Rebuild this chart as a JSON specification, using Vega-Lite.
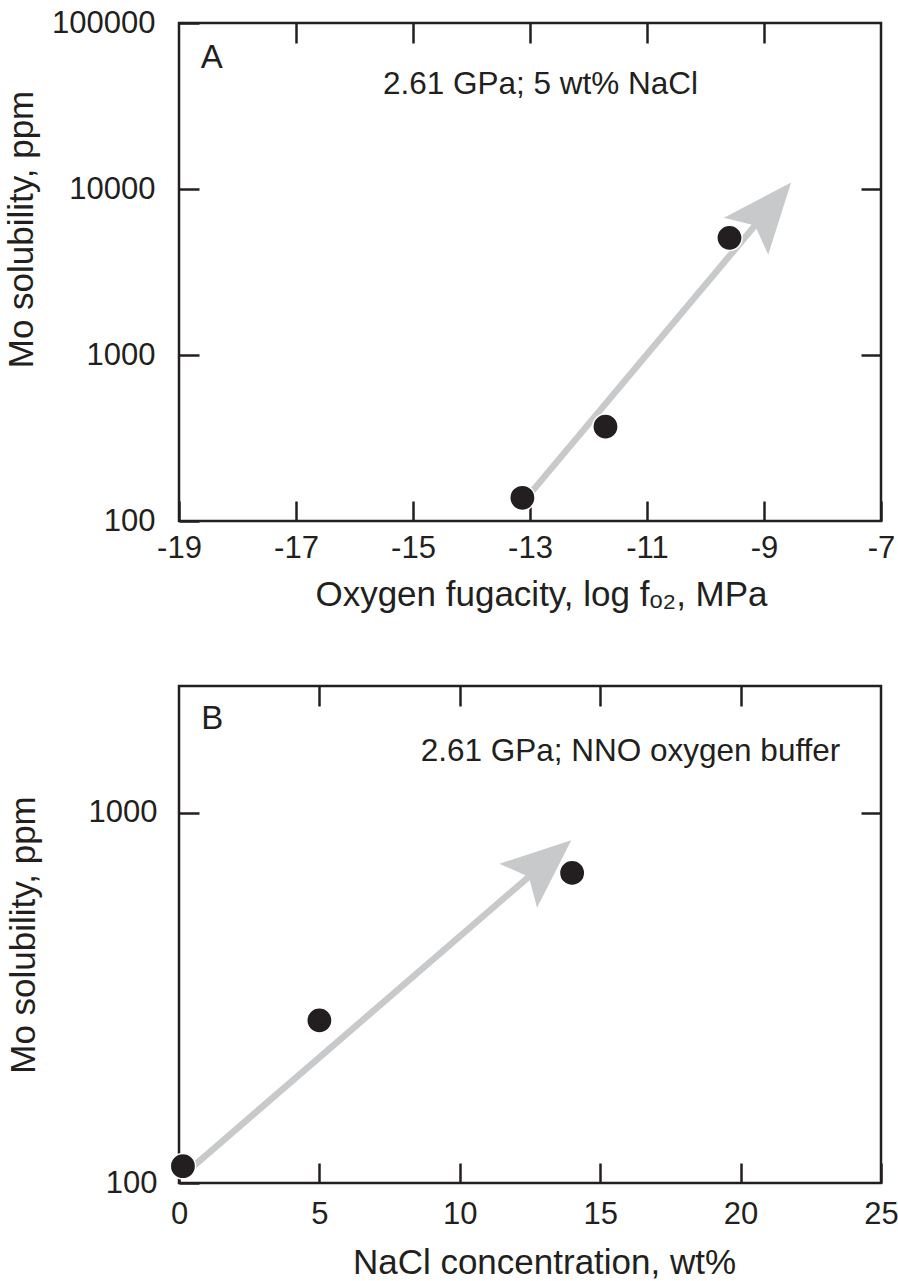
{
  "$schema": "https://vega.github.io/schema/vega-lite/v6.json",
  "background": "white",
  "padding": {"top": 5, "left": 3, "right": 10, "bottom": 2},
  "config": {
    "view": {"stroke": "#231f20", "strokeWidth": 2.5},
    "axis": {
      "labelFont": "Liberation Sans", "titleFont": "Liberation Sans",
      "labelFontSize": 31, "titleFontSize": 35, "titleFontWeight": "normal",
      "labelColor": "#231f20", "titleColor": "#231f20", "tickColor": "#231f20",
      "tickWidth": 2.5, "tickSize": -20, "domain": false, "grid": false,
      "labelFlush": false, "labelOverlap": false
    },
    "text": {"font": "Liberation Sans", "color": "#231f20"}
  },
  "columns": 1,
  "spacing": 69,
  "concat": [
    {
      "width": 702, "height": 498,
      "layer": [
        {
          "data": {"values": [{"x": -13.07, "y": 136.2}, {"x": -9.043, "y": 6708}]},
          "mark": {"type": "line", "color": "#c8c9ca", "strokeWidth": 6.5, "strokeCap": "butt"},
          "encoding": {
            "x": {"field": "x", "type": "quantitative", "scale": {"domain": [-19, -7], "nice": false, "zero": false},
              "axis": {"orient": "bottom", "values": [-19, -17, -15, -13, -11, -9, -7], "labelExpr": "datum.value + ''", "labelPadding": 32.5, "title": "Oxygen fugacity, log fₒ₂, MPa", "titlePadding": 14, "titleX": 362}},
            "y": {"field": "y", "type": "quantitative", "scale": {"type": "log", "domain": [100, 100000], "nice": false},
              "axis": {"orient": "left", "values": [100, 1000, 10000, 100000], "labelExpr": "datum.value + ''", "labelPadding": 44, "title": "Mo solubility, ppm", "titlePadding": 12, "titleY": 206}}
          }
        },
        {
          "data": {"values": [{"x": -8.537, "y": 10926}]},
          "mark": {"type": "point", "shape": "M0,0L0.413,1L0,0.8L-0.413,1Z", "size": 19600, "angle": 40, "filled": true, "color": "#c8c9ca", "opacity": 1, "strokeWidth": 0},
          "encoding": {
            "x": {"field": "x", "type": "quantitative", "scale": {"domain": [-19, -7], "nice": false, "zero": false}, "axis": null},
            "y": {"field": "y", "type": "quantitative", "scale": {"type": "log", "domain": [100, 100000], "nice": false}, "axis": null}
          }
        },
        {
          "data": {"values": [{"x": -13.13, "y": 138}, {"x": -11.71, "y": 370}, {"x": -9.59, "y": 5080}]},
          "mark": {"type": "circle", "size": 640, "color": "#231f20", "opacity": 1, "stroke": "white", "strokeWidth": 1.5},
          "encoding": {
            "x": {"field": "x", "type": "quantitative", "scale": {"domain": [-19, -7], "nice": false, "zero": false}, "axis": null},
            "y": {"field": "y", "type": "quantitative", "scale": {"type": "log", "domain": [100, 100000], "nice": false}, "axis": null}
          }
        },
        {
          "data": {"values": [{"x": -18.63, "y": 53830, "label": "A"}]},
          "mark": {"type": "text", "fontSize": 33, "align": "left", "baseline": "alphabetic"},
          "encoding": {
            "x": {"field": "x", "type": "quantitative", "scale": {"domain": [-19, -7], "nice": false, "zero": false}, "axis": null},
            "y": {"field": "y", "type": "quantitative", "scale": {"type": "log", "domain": [100, 100000], "nice": false}, "axis": null},
            "text": {"field": "label"}
          }
        },
        {
          "data": {"values": [{"x": -12.82, "y": 37530, "label": "2.61 GPa; 5 wt% NaCl"}]},
          "mark": {"type": "text", "fontSize": 31.5, "align": "center", "baseline": "alphabetic"},
          "encoding": {
            "x": {"field": "x", "type": "quantitative", "scale": {"domain": [-19, -7], "nice": false, "zero": false}, "axis": null},
            "y": {"field": "y", "type": "quantitative", "scale": {"type": "log", "domain": [100, 100000], "nice": false}, "axis": null},
            "text": {"field": "label"}
          }
        },
        {
          "data": {"values": [{"x": -13.13, "y": 138}, {"x": -11.71, "y": 370}, {"x": -9.59, "y": 5080}]},
          "mark": {"type": "point", "opacity": 0},
          "encoding": {
            "x": {"field": "x", "type": "quantitative", "scale": {"domain": [-19, -7], "nice": false, "zero": false},
              "axis": {"orient": "top", "values": [-17, -15, -13, -11, -9], "labels": false, "title": null}},
            "y": {"field": "y", "type": "quantitative", "scale": {"type": "log", "domain": [100, 100000], "nice": false},
              "axis": {"orient": "right", "values": [1000, 10000], "labels": false, "title": null}}
          }
        }
      ],
      "resolve": {"axis": {"x": "independent", "y": "independent"}}
    },
    {
      "width": 702, "height": 497,
      "layer": [
        {
          "data": {"values": [{"x": 0.285, "y": 107.3}, {"x": 12.73, "y": 699.8}]},
          "mark": {"type": "line", "color": "#c8c9ca", "strokeWidth": 6.5, "strokeCap": "butt"},
          "encoding": {
            "x": {"field": "x", "type": "quantitative", "scale": {"domain": [0, 25], "nice": false},
              "axis": {"orient": "bottom", "values": [0, 5, 10, 15, 20, 25], "labelExpr": "datum.value + ''", "labelPadding": 36.5, "title": "NaCl concentration, wt%", "titlePadding": 16, "titleX": 365}},
            "y": {"field": "y", "type": "quantitative", "scale": {"type": "log", "domain": [100, 2200], "nice": false},
              "axis": {"orient": "left", "values": [100, 1000], "labelExpr": "datum.value + ''", "labelPadding": 42, "title": "Mo solubility, ppm", "titlePadding": 47}}
          }
        },
        {
          "data": {"values": [{"x": 13.97, "y": 843.5}]},
          "mark": {"type": "point", "shape": "M0,0L0.413,1L0,0.8L-0.413,1Z", "size": 19600, "angle": 49.3, "filled": true, "color": "#c8c9ca", "opacity": 1, "strokeWidth": 0},
          "encoding": {
            "x": {"field": "x", "type": "quantitative", "scale": {"domain": [0, 25], "nice": false}, "axis": null},
            "y": {"field": "y", "type": "quantitative", "scale": {"type": "log", "domain": [100, 2200], "nice": false}, "axis": null}
          }
        },
        {
          "data": {"values": [{"x": 0.14, "y": 111}, {"x": 5.0, "y": 275}, {"x": 14.0, "y": 688}]},
          "mark": {"type": "circle", "size": 640, "color": "#231f20", "opacity": 1, "stroke": "white", "strokeWidth": 1.5},
          "encoding": {
            "x": {"field": "x", "type": "quantitative", "scale": {"domain": [0, 25], "nice": false}, "axis": null},
            "y": {"field": "y", "type": "quantitative", "scale": {"type": "log", "domain": [100, 2200], "nice": false}, "axis": null}
          }
        },
        {
          "data": {"values": [{"x": 0.794, "y": 1680, "label": "B"}]},
          "mark": {"type": "text", "fontSize": 33, "align": "left", "baseline": "alphabetic"},
          "encoding": {
            "x": {"field": "x", "type": "quantitative", "scale": {"domain": [0, 25], "nice": false}, "axis": null},
            "y": {"field": "y", "type": "quantitative", "scale": {"type": "log", "domain": [100, 2200], "nice": false}, "axis": null},
            "text": {"field": "label"}
          }
        },
        {
          "data": {"values": [{"x": 16.08, "y": 1379, "label": "2.61 GPa; NNO oxygen buffer"}]},
          "mark": {"type": "text", "fontSize": 31.5, "align": "center", "baseline": "alphabetic"},
          "encoding": {
            "x": {"field": "x", "type": "quantitative", "scale": {"domain": [0, 25], "nice": false}, "axis": null},
            "y": {"field": "y", "type": "quantitative", "scale": {"type": "log", "domain": [100, 2200], "nice": false}, "axis": null},
            "text": {"field": "label"}
          }
        },
        {
          "data": {"values": [{"x": 0.14, "y": 111}, {"x": 5.0, "y": 275}, {"x": 14.0, "y": 688}]},
          "mark": {"type": "point", "opacity": 0},
          "encoding": {
            "x": {"field": "x", "type": "quantitative", "scale": {"domain": [0, 25], "nice": false},
              "axis": {"orient": "top", "values": [5, 10, 15, 20], "labels": false, "title": null}},
            "y": {"field": "y", "type": "quantitative", "scale": {"type": "log", "domain": [100, 2200], "nice": false},
              "axis": {"orient": "right", "values": [1000], "labels": false, "title": null}}
          }
        }
      ],
      "resolve": {"axis": {"x": "independent", "y": "independent"}}
    }
  ]
}
